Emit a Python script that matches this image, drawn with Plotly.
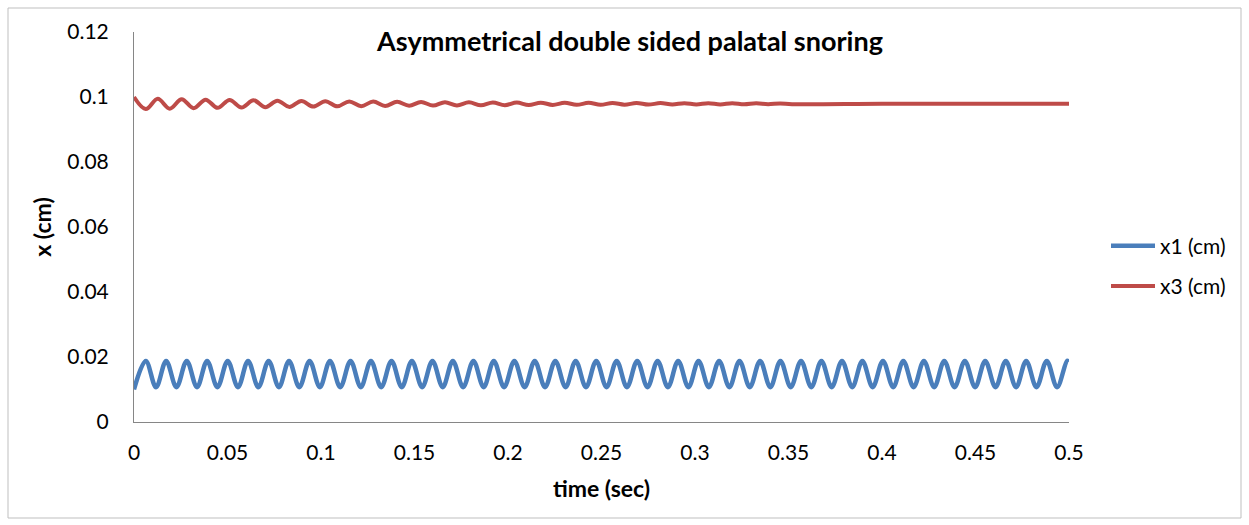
import plotly.graph_objects as go

# ---- data ----
# x1 (cm): start value, then alternating peaks and troughs
x1_peak_t = [0.0063, 0.0172, 0.0282, 0.0391, 0.0501, 0.0610, 0.0720, 0.0829, 0.0939, 0.1048,
             0.1158, 0.1267, 0.1377, 0.1486, 0.1596, 0.1705, 0.1815, 0.1924, 0.2034, 0.2143,
             0.2253, 0.2362, 0.2472, 0.2581, 0.2691, 0.2800, 0.2910, 0.3019, 0.3129, 0.3238,
             0.3348, 0.3457, 0.3567, 0.3676, 0.3786, 0.3895, 0.4005, 0.4114, 0.4224, 0.4333,
             0.4443, 0.4552, 0.4662, 0.4771, 0.4881, 0.4990]
x1_trough_t = [0.0000, 0.0118, 0.0227, 0.0337, 0.0446, 0.0556, 0.0665, 0.0775, 0.0884, 0.0994,
               0.1103, 0.1213, 0.1322, 0.1432, 0.1541, 0.1651, 0.1760, 0.1870, 0.1979, 0.2089,
               0.2198, 0.2308, 0.2417, 0.2527, 0.2636, 0.2746, 0.2855, 0.2965, 0.3074, 0.3184,
               0.3293, 0.3403, 0.3512, 0.3622, 0.3731, 0.3841, 0.3950, 0.4060, 0.4169, 0.4279,
               0.4388, 0.4498, 0.4607, 0.4717, 0.4826, 0.4936]
x1_peak_v = [0.0188] * 46
x1_trough_v = [0.0100] + [0.0107] * 45
x1_end_t = [0.5000]
x1_end_v = [0.0186]

# x3 (cm): start value, alternating troughs/peaks of the decaying ripple, then flat
x3_t = [0.0000, 0.0063, 0.0127, 0.0191, 0.0255, 0.0319, 0.0383, 0.0447, 0.0511, 0.0575,
        0.0639, 0.0703, 0.0767, 0.0831, 0.0895, 0.0959, 0.1023, 0.1087, 0.1151, 0.1215,
        0.1279, 0.1343, 0.1407, 0.1471, 0.1535, 0.1599, 0.1663, 0.1727, 0.1791, 0.1855,
        0.1919, 0.1983, 0.2047, 0.2111, 0.2175, 0.2239, 0.2303, 0.2367, 0.2431, 0.2495,
        0.2559, 0.2623, 0.2687, 0.2751, 0.2815, 0.2879, 0.2943, 0.3007, 0.3071, 0.3135,
        0.3199, 0.3263, 0.3327, 0.3391, 0.3455, 0.3519, 0.4000, 0.4500, 0.5000]
x3_v = [0.10000, 0.09627, 0.09945, 0.09642, 0.09932, 0.09655, 0.09919, 0.09666, 0.09908, 0.09677,
        0.09898, 0.09687, 0.09888, 0.09696, 0.09880, 0.09704, 0.09872, 0.09712, 0.09865, 0.09719,
        0.09858, 0.09725, 0.09852, 0.09731, 0.09847, 0.09736, 0.09842, 0.09740, 0.09837, 0.09745,
        0.09833, 0.09749, 0.09829, 0.09752, 0.09826, 0.09756, 0.09823, 0.09759, 0.09820, 0.09761,
        0.09817, 0.09764, 0.09815, 0.09766, 0.09813, 0.09768, 0.09811, 0.09770, 0.09809, 0.09772,
        0.09807, 0.09774, 0.09805, 0.09776, 0.09803, 0.09778, 0.09790, 0.09790, 0.09790]

x_ticks = [0, 0.05, 0.1, 0.15, 0.2, 0.25, 0.3, 0.35, 0.4, 0.45, 0.5]
x_tick_labels = ["0", "0.05", "0.1", "0.15", "0.2", "0.25", "0.3", "0.35", "0.4", "0.45", "0.5"]
y_ticks = [0, 0.02, 0.04, 0.06, 0.08, 0.1, 0.12]
y_tick_labels = ["0", "0.02", "0.04", "0.06", "0.08", "0.1", "0.12"]

# build x1 table (sorted by time)
pts = sorted(list(zip(x1_trough_t, x1_trough_v)) + list(zip(x1_peak_t, x1_peak_v))
             + list(zip(x1_end_t, x1_end_v)))
x1_t = [p[0] for p in pts]
x1_v = [p[1] for p in pts]

FONT = "Lato"
BLUE = "#4A7EBB"
RED = "#BE4B48"

fig = go.Figure()
fig.add_trace(go.Scatter(x=x1_t, y=x1_v, mode="lines", name="x1 (cm)",
                         line=dict(color=BLUE, width=4.5, shape="spline", smoothing=1.0),
                         legendgroup="a"))
fig.add_trace(go.Scatter(x=x3_t, y=x3_v, mode="lines", name="x3 (cm)",
                         line=dict(color=RED, width=4, shape="spline", smoothing=1.0),
                         legendgroup="b"))

W, H = 1249, 525
L, R, T, B = 134, 180, 32, 103
pw, ph = W - L - R, H - T - B

def px(xp):
    return (xp - L) / pw

def py(yp):
    return (H - B - yp) / ph

fig.update_layout(
    width=W, height=H,
    margin=dict(l=L, r=R, t=T, b=B),
    paper_bgcolor="white", plot_bgcolor="white",
    font=dict(family=FONT, size=21, color="#000000"),
    title=dict(text="<b>Asymmetrical double sided palatal snoring</b>",
               x=630 / W, xanchor="center", y=1 - 42 / H, yanchor="middle",
               font=dict(family=FONT, size=27, color="#000000")),
    showlegend=True,
    legend=dict(x=px(1106), xanchor="left", y=py(266), yanchor="middle",
                traceorder="grouped", tracegroupgap=10,
                font=dict(family=FONT, size=21, color="#000000"),
                bgcolor="rgba(0,0,0,0)", itemwidth=44),
    xaxis=dict(range=[0, 0.5], tickvals=x_ticks, ticktext=x_tick_labels,
               showgrid=False, zeroline=False, showline=True, linecolor="#868686",
               linewidth=1, ticks="", ticklabelstandoff=12,
               tickfont=dict(family=FONT, size=21),
               title=dict(text="<b>time (sec)</b>", font=dict(family=FONT, size=23),
                          standoff=17)),
    yaxis=dict(range=[0, 0.12], tickvals=y_ticks, ticktext=y_tick_labels,
               showgrid=False, zeroline=False, showline=True, linecolor="#868686",
               linewidth=1, ticks="", ticklabelstandoff=20,
               tickfont=dict(family=FONT, size=21),
               title=dict(text="<b>x (cm)</b>", font=dict(family=FONT, size=23),
                          standoff=9)),
)

# outer chart border
fig.add_shape(type="rect", xref="paper", yref="paper",
              x0=px(8), x1=px(1241), y0=py(518), y1=py(8),
              line=dict(color="#BFBFBF", width=1), fillcolor="rgba(0,0,0,0)",
              layer="below")

fig.write_html("out.html")
